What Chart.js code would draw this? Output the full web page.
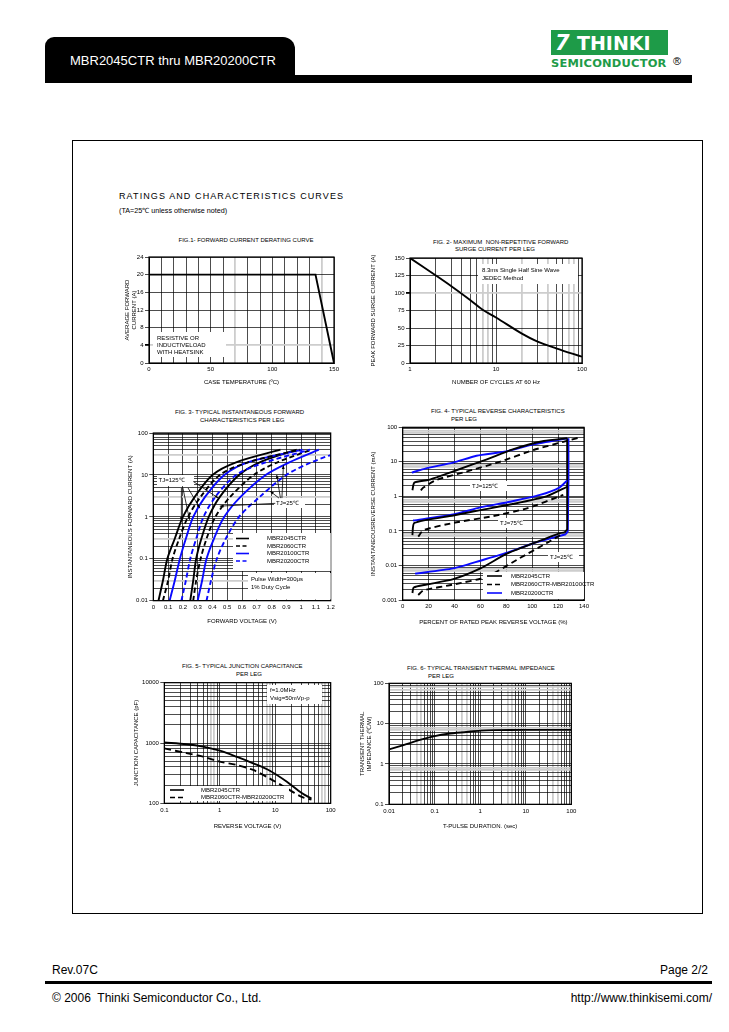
<!DOCTYPE html>
<html>
<head>
<meta charset="utf-8">
<title>MBR2045CTR thru MBR20200CTR - curves</title>
<script src="https://cdn.jsdelivr.net/npm/chart.js@4.4.1/dist/chart.umd.min.js"></script>
<style>
  body { margin: 0; background: #fff; }
  #page { position: relative; width: 729px; height: 1032px; overflow: hidden; font-family: "Liberation Sans", Arial, sans-serif; color: #000; }
  .t { position: absolute; white-space: nowrap; line-height: 1; transform: translateY(-50%); }
  .s { font-size: 6px; }
  canvas { position: absolute; }
</style>
</head>
<body>
<div id="page">
  <!-- header -->
  <div style="position:absolute;left:45px;top:37px;width:250px;height:46px;background:#000;border-radius:9px 12px 0 0;"></div>
  <div style="position:absolute;left:45px;top:75px;width:647px;height:8px;background:#000;"></div>
  <div class="t" style="left:70px;top:60px;font-size:13px;color:#fff;">MBR2045CTR thru MBR20200CTR</div>
  <div style="position:absolute;left:551px;top:30px;width:117px;height:25px;background:#1e9b48;"></div>
  <div class="t" style="left:555px;top:43px;font:italic 900 21px 'DejaVu Sans';color:#fff;">7</div>
  <div class="t" style="left:577px;top:43px;font:900 20px 'DejaVu Sans';color:#fff;transform:translateY(-50%) scaleX(0.95);transform-origin:left center;">THINKI</div>
  <div class="t" style="left:551px;top:63px;font:900 11px 'DejaVu Sans';color:#1e9b48;letter-spacing:0.2px;transform:translateY(-50%) scaleX(1.04);transform-origin:left center;">SEMICONDUCTOR</div>
  <div class="t" style="left:673px;top:61px;font-size:11px;">®</div>

  <!-- frame -->
  <div style="position:absolute;left:72px;top:140px;width:629px;height:772px;border:1px solid #000;"></div>
  <div class="t" style="left:119px;top:196px;font-size:9px;letter-spacing:1.1px;">RATINGS AND CHARACTERISTICS CURVES</div>
  <div class="t" style="left:119px;top:211px;font-size:7.2px;">(TA=25℃ unless otherwise noted)</div>

  <!-- figure titles -->
  <div class="t s" style="left:246px;top:240px;transform:translate(-50%,-50%);">FIG.1- FORWARD CURRENT DERATING CURVE</div>
  <div class="t s" style="left:433px;top:242px;">FIG. 2- MAXIMUM&nbsp; NON-REPETITIVE FORWARD</div>
  <div class="t s" style="left:455px;top:249px;">SURGE CURRENT PER LEG</div>
  <div class="t s" style="left:175px;top:412px;">FIG. 3- TYPICAL INSTANTANEOUS FORWARD</div>
  <div class="t s" style="left:200px;top:420px;">CHARACTERISTICS PER LEG</div>
  <div class="t s" style="left:431px;top:411px;">FIG. 4- TYPICAL REVERSE CHARACTERISTICS</div>
  <div class="t s" style="left:451px;top:419px;">PER LEG</div>
  <div class="t s" style="left:182px;top:666px;">FIG. 5- TYPICAL JUNCTION CAPACITANCE</div>
  <div class="t s" style="left:236px;top:674px;">PER LEG</div>
  <div class="t s" style="left:407px;top:668px;">FIG. 6- TYPICAL TRANSIENT THERMAL IMPEDANCE</div>
  <div class="t s" style="left:428px;top:676px;">PER LEG</div>

  <canvas id="fig1"></canvas>
  <canvas id="fig2"></canvas>
  <canvas id="fig3"></canvas>
  <canvas id="fig4"></canvas>
  <canvas id="fig5"></canvas>
  <canvas id="fig6"></canvas>

  <!-- footer -->
  <div class="t" style="left:52px;top:970px;font-size:12px;">Rev.07C</div>
  <div class="t" style="right:21px;top:970px;font-size:12px;">Page 2/2</div>
  <div style="position:absolute;left:45px;top:981px;width:667px;height:2.5px;background:#000;"></div>
  <div class="t" style="left:52px;top:998px;font-size:12px;">© 2006&nbsp; Thinki Semiconductor Co., Ltd.</div>
  <div class="t" style="right:17px;top:998px;font-size:12px;">http://www.thinkisemi.com/</div>
</div>

<script>
// ---------- Fig.1 forward current derating ----------
const f1Temp = [0, 135, 150];
const f1Amps = [20, 20, 0];
const f1TempLabels = [0, 50, 100, 150];
const f1AmpLabels = [0, 4, 8, 12, 16, 20, 24];

// ---------- Fig.2 surge current ----------
const f2Cycles = [1, 2, 3, 5, 7, 10, 20, 30, 50, 100];
const f2Surge = [150, 125, 110, 90, 76, 65, 42, 31, 21, 9];
const f2CycleLabels = [1, 10, 100];
const f2SurgeLabels = [0, 25, 50, 75, 100, 125, 150];

// ---------- Fig.3 forward characteristics (volts at each current) ----------
const f3Amps = [0.01, 0.03, 0.1, 0.3, 1, 3, 10, 20, 40];
const f3V2045Hot = [0.035, 0.065, 0.095, 0.145, 0.2, 0.28, 0.40, 0.56, 0.86];
const f3V2060Hot = [0.065, 0.1, 0.13, 0.175, 0.235, 0.32, 0.45, 0.64, 0.99];
const f3V20100Hot = [0.11, 0.145, 0.18, 0.22, 0.27, 0.35, 0.48, 0.64, 1.01];
const f3V20200Hot = [0.19, 0.22, 0.25, 0.29, 0.34, 0.42, 0.56, 0.76, 1.06];
const f3V2045Cold = [0.25, 0.27, 0.29, 0.325, 0.375, 0.45, 0.58, 0.72, 0.97];
const f3V2060Cold = [0.27, 0.29, 0.32, 0.36, 0.42, 0.52, 0.68, 0.84, 1.07];
const f3V20100Cold = [0.30, 0.33, 0.36, 0.41, 0.48, 0.59, 0.76, 0.92, 1.12];
const f3V20200Cold = [0.36, 0.39, 0.43, 0.49, 0.58, 0.72, 0.90, 1.07, 1.30];
const f3VoltLabels = [0, 0.1, 0.2, 0.3, 0.4, 0.5, 0.6, 0.7, 0.8, 0.9, 1, 1.1, 1.2];
const f3AmpLabels = [0.01, 0.1, 1, 10, 100];
// arrows [fromV, fromA, toV, toA]
const f3ArrowsHot = [[0.19, 4.9, 0.19, 0.8], [0.2, 4.9, 0.245, 0.85], [0.235, 4.9, 0.315, 1.6], [0.27, 7.0, 0.44, 2.8]];
const f3ArrowsCold = [[0.86, 2.8, 0.835, 10], [0.85, 2.8, 0.79, 4.1], [0.87, 2.8, 0.88, 17], [0.825, 2.1, 0.45, 1.8]];

// ---------- Fig.4 reverse characteristics ----------
const f4Pct2045T125 = [7.5, 9, 20, 42, 65, 85, 109, 127];
const f4mA2045T125 = [1.5, 2.5, 3.0, 5.8, 11.8, 23, 40, 48];
const f4Pct2060T125 = [14, 16, 26, 49, 75, 101, 124, 136];
const f4mA2060T125 = [1.5, 1.8, 3.0, 5.2, 10, 22, 38, 50];
const f4Pct20200T125 = [7, 18, 39, 57, 80, 101, 127];
const f4mA20200T125 = [4.9, 6.5, 9.5, 15, 20, 32, 48];
const f4Pct2045T75 = [7.5, 9, 39, 60, 85, 111, 127];
const f4mA2045T75 = [0.076, 0.17, 0.28, 0.4, 0.6, 1.0, 1.9];
const f4Pct2060T75 = [12, 16, 39, 70, 96, 124];
const f4mA2060T75 = [0.068, 0.105, 0.17, 0.27, 0.45, 1.1];
const f4Pct20200T75 = [8, 39, 60, 83, 106, 121, 127];
const f4mA20200T75 = [0.2, 0.3, 0.48, 0.7, 1.1, 1.8, 2.9];
const f4Pct2045T25 = [7.5, 8.5, 18.5, 39, 60, 80, 101, 121, 125];
const f4mA2045T25 = [0.0016, 0.0023, 0.0028, 0.0040, 0.0082, 0.0215, 0.044, 0.085, 0.09];
const f4Pct2060T25 = [12, 16, 39, 65, 90, 111, 124];
const f4mA2060T25 = [0.0014, 0.0019, 0.0028, 0.0047, 0.016, 0.044, 0.085];
const f4Pct20200T25 = [9.5, 39, 60, 80, 101, 119, 126];
const f4mA20200T25 = [0.0058, 0.0082, 0.0137, 0.023, 0.044, 0.068, 0.08];
const f4PctEdgeBlk = [125, 127, 127, 127];
const f4mAEdgeBlk = [0.09, 0.11, 2, 48];
const f4PctEdgeBlue = [126, 127.5, 128, 128];
const f4mAEdgeBlue = [0.08, 0.1, 3, 48];
const f4PctLabels = [0, 20, 40, 60, 80, 100, 120, 140];
const f4mALabels = [0.001, 0.01, 0.1, 1, 10, 100];

// ---------- Fig.5 junction capacitance ----------
const f5Volts = [0.1, 0.25, 0.5, 1, 2, 4, 8, 16, 30, 45];
const f5pF2045 = [1020, 955, 870, 745, 593, 460, 347, 230, 148, 120];
const f5pF2060 = [814, 680, 594, 490, 433, 357, 257, 178, 128, 115];
const f5VoltLabels = [0.1, 1, 10, 100];
const f5pFLabels = [100, 1000, 10000];

// ---------- Fig.6 transient thermal impedance ----------
const f6Sec = [0.01, 0.02, 0.05, 0.1, 0.2, 0.5, 1, 2, 10, 100];
const f6Zth = [2.3, 2.9, 4.0, 4.9, 5.6, 6.2, 6.7, 6.9, 7.0, 7.0];
const f6SecLabels = [0.01, 0.1, 1, 10, 100];
const f6ZthLabels = [0.1, 1, 10, 100];

// ---------- helpers ----------
const FS = 6;
const LH = FS * 1.2;
const FONT = '6px "Liberation Sans", Arial, sans-serif';
Chart.defaults.font.family = '"Liberation Sans", Arial, sans-serif';
Chart.defaults.font.size = FS;
Chart.defaults.color = '#000';
Chart.defaults.animation = false;

function near(list, v) {
  return list.some(l => Math.abs(l - v) <= 1e-9 * Math.max(1, Math.abs(l)));
}
function linGrid(min, max, step) {
  const a = [];
  for (let v = min; v <= max + step / 1000; v += step) a.push(+v.toFixed(6));
  return a;
}
function logGrid(min, max) {
  const a = [];
  for (let e = Math.round(Math.log10(min)); e < Math.round(Math.log10(max)); e++)
    for (let k = 1; k < 10; k++) a.push(+(k * Math.pow(10, e)).toPrecision(6));
  a.push(max);
  return a;
}
function bySig(grid, sigs) {
  return grid.filter(v => sigs.includes(Math.round(v / Math.pow(10, Math.floor(Math.log10(v) + 1e-9)))));
}

function axis(o) {
  const isX = o.pos === 'x';
  const gray = o.gray || [];
  const tv = c => (c.tick ? c.tick.value : NaN);
  return {
    type: o.type, min: o.min, max: o.max, position: isX ? 'bottom' : 'left',
    afterBuildTicks: s => { s.ticks = o.grid.map(v => ({ value: v })); },
    afterFit: s => { if (isX) s.height = o.size; else s.width = o.size; },
    ticks: {
      autoSkip: false, maxRotation: 0, minRotation: 0, padding: isX ? 3 : 1.5,
      callback: v => near(o.labels, v) ? String(+v.toPrecision(6)) : ''
    },
    grid: {
      drawTicks: !isX, tickLength: 4,
      color: c => near(gray, tv(c)) ? '#cdcdcd' : '#000',
      lineWidth: c => near(gray, tv(c)) ? 1.8 : 0.7,
      tickColor: c => near(o.labels, tv(c)) ? '#000' : 'rgba(0,0,0,0)'
    },
    border: { color: '#000', width: 1 },
    title: { display: true, text: o.title, padding: isX ? { top: 0, bottom: o.tpad } : { top: o.tpad, bottom: 0 } }
  };
}

function series(xs, ys, color, dash, tension) {
  return {
    data: xs.map((x, i) => ({ x: x, y: ys[i] })),
    borderColor: color, borderWidth: 1.9, borderDash: dash || [],
    pointRadius: 0, fill: false, tension: tension === undefined ? 0.3 : tension
  };
}

function arrow(ctx, x0, y0, x1, y1) {
  ctx.strokeStyle = '#000';
  ctx.fillStyle = '#000';
  ctx.lineWidth = 0.8;
  ctx.beginPath(); ctx.moveTo(x0, y0); ctx.lineTo(x1, y1); ctx.stroke();
  const a = Math.atan2(y1 - y0, x1 - x0), h = 4;
  ctx.beginPath();
  ctx.moveTo(x1, y1);
  ctx.lineTo(x1 - h * Math.cos(a - 0.38), y1 - h * Math.sin(a - 0.38));
  ctx.lineTo(x1 - h * Math.cos(a + 0.38), y1 - h * Math.sin(a + 0.38));
  ctx.closePath(); ctx.fill();
}

// area = plot rectangle in page pixels, notes in page pixels (arrows in data units)
function figure(id, area, yTitleX, xTitleY, xo, yo, datasets, notes) {
  const L = Math.round(yTitleX - 6), T = Math.round(area.top - 6);
  const R = Math.round(area.right + 16), B = Math.round(xTitleY + 6);
  const cv = document.getElementById(id);
  cv.width = R - L; cv.height = B - T;
  cv.style.left = L + 'px'; cv.style.top = T + 'px';
  cv.style.width = (R - L) + 'px'; cv.style.height = (B - T) + 'px';
  xo.pos = 'x'; xo.size = B - area.bottom; xo.tpad = B - xTitleY - LH / 2;
  yo.pos = 'y'; yo.size = area.left - L; yo.tpad = yTitleX - L - LH / 2;
  notes = notes || {};

  const decor = {
    id: 'decor',
    afterDatasetsDraw(chart) {
      const { ctx, chartArea: a, scales } = chart;
      ctx.save();
      ctx.strokeStyle = '#000'; ctx.lineWidth = 1.2;
      ctx.strokeRect(a.left, a.top, a.right - a.left, a.bottom - a.top);
      ctx.fillStyle = '#fff';
      (notes.boxes || []).forEach(b => ctx.fillRect(b[0] - L, b[1] - T, b[2] - b[0], b[3] - b[1]));
      (notes.keys || []).forEach(k => {
        ctx.strokeStyle = k[3]; ctx.lineWidth = 1.6; ctx.setLineDash(k[4]);
        ctx.beginPath(); ctx.moveTo(k[0] - L, k[2] - T); ctx.lineTo(k[1] - L, k[2] - T); ctx.stroke();
      });
      ctx.setLineDash([]);
      ctx.font = FONT; ctx.fillStyle = '#000'; ctx.textBaseline = 'middle'; ctx.textAlign = 'left';
      (notes.texts || []).forEach(t => ctx.fillText(t[2], t[0] - L, t[1] - T));
      (notes.arrows || []).forEach(r => arrow(ctx,
        scales.x.getPixelForValue(r[0]), scales.y.getPixelForValue(r[1]),
        scales.x.getPixelForValue(r[2]), scales.y.getPixelForValue(r[3])));
      ctx.restore();
    }
  };

  return new Chart(cv, {
    type: 'line',
    data: { datasets: datasets },
    options: {
      responsive: false, maintainAspectRatio: false,
      layout: { autoPadding: false, padding: { left: 0, bottom: 0, top: area.top - T, right: R - area.right } },
      plugins: { legend: { display: false }, tooltip: { enabled: false } },
      scales: { x: axis(xo), y: axis(yo) }
    },
    plugins: [decor]
  });
}

const BLK = '#000', BLUE = '#0a0aff';

// Fig.1
figure('fig1', { left: 149, top: 257, right: 334, bottom: 363 }, 127, 382,
  { type: 'linear', min: 0, max: 150, grid: linGrid(0, 150, 10), labels: f1TempLabels, gray: [70, 140], title: 'CASE TEMPERATURE (ºC)' },
  { type: 'linear', min: 0, max: 24, grid: linGrid(0, 24, 4), labels: f1AmpLabels, gray: [4], title: ['AVERAGE FORWARD', 'CURRENT (A)'] },
  [series(f1Temp, f1Amps, BLK, [], 0)],
  {
    boxes: [[153, 332, 226, 357]],
    texts: [[157, 338, 'RESISTIVE OR'], [157, 345, 'INDUCTIVELOAD'], [157, 352, 'WITH HEATSINK']]
  });

// Fig.2
figure('fig2', { left: 410, top: 258, right: 582, bottom: 363 }, 373, 382,
  { type: 'logarithmic', min: 1, max: 100, grid: logGrid(1, 100), labels: f2CycleLabels, gray: [7, 8, 20, 40, 70, 80], title: 'NUMBER OF CYCLES AT 60 Hz' },
  { type: 'linear', min: 0, max: 150, grid: linGrid(0, 150, 25), labels: f2SurgeLabels, gray: [100], title: 'PEAK FORWARD SURGE CURRENT (A)' },
  [series(f2Cycles, f2Surge, BLK, [], 0.35)],
  {
    boxes: [[478, 264, 578, 284]],
    texts: [[482, 270, '8.3ms Single Half Sine Wave'], [482, 278, 'JEDEC Method']]
  });

// Fig.3
const f3Grid = logGrid(0.01, 100);
figure('fig3', { left: 153.3, top: 433, right: 330.7, bottom: 600.7 }, 130, 621,
  { type: 'linear', min: 0, max: 1.2, grid: linGrid(0, 1.2, 0.1), labels: f3VoltLabels, title: 'FORWARD VOLTAGE (V)' },
  { type: 'logarithmic', min: 0.01, max: 100, grid: f3Grid, labels: f3AmpLabels, gray: bySig(f3Grid, [3]), title: 'INSTANTANEOUS FORWARD CURRENT (A)' },
  [
    series(f3V2045Hot, f3Amps, BLK), series(f3V2060Hot, f3Amps, BLK, [5, 3]),
    series(f3V20100Hot, f3Amps, BLUE), series(f3V20200Hot, f3Amps, BLUE, [5, 3]),
    series(f3V2045Cold, f3Amps, BLK), series(f3V2060Cold, f3Amps, BLK, [5, 3]),
    series(f3V20100Cold, f3Amps, BLUE), series(f3V20200Cold, f3Amps, BLUE, [5, 3])
  ],
  {
    boxes: [[157, 475, 194, 486], [274, 498, 305, 508], [233, 533, 330.7, 571], [248, 573, 330.7, 599.5]],
    keys: [[236, 249, 538.5, BLK, []], [236, 249, 546, BLK, [4, 2.5]], [236, 249, 553.5, BLUE, []], [236, 249, 561, BLUE, [4, 2.5]]],
    texts: [[158.5, 480.5, 'TJ=125℃'], [276, 503, 'TJ=25℃'],
      [267, 538.5, 'MBR2045CTR'], [267, 546, 'MBR2060CTR'], [267, 553.5, 'MBR20100CTR'], [267, 561, 'MBR20200CTR'],
      [251, 579, 'Pulse Width=300μs'], [251, 587, '1% Duty Cycle']],
    arrows: f3ArrowsHot.concat(f3ArrowsCold)
  });

// Fig.4
const f4Grid = logGrid(0.001, 100);
figure('fig4', { left: 402.7, top: 427.3, right: 584, bottom: 600 }, 373, 622,
  { type: 'linear', min: 0, max: 140, grid: linGrid(0, 140, 20), labels: f4PctLabels, title: 'PERCENT OF RATED PEAK REVERSE VOLTAGE (%)' },
  { type: 'logarithmic', min: 0.001, max: 100, grid: f4Grid, labels: f4mALabels, gray: bySig(f4Grid, [7, 8]), title: 'INSTANTANEOUSREVERSE CURRENT (mA)' },
  [
    series(f4Pct2045T125, f4mA2045T125, BLK, [], 0.2), series(f4Pct2060T125, f4mA2060T125, BLK, [6, 4], 0.2),
    series(f4Pct20200T125, f4mA20200T125, BLUE, [], 0.2),
    series(f4Pct2045T75, f4mA2045T75, BLK, [], 0.2), series(f4Pct2060T75, f4mA2060T75, BLK, [6, 4], 0.2),
    series(f4Pct20200T75, f4mA20200T75, BLUE, [], 0.2),
    series(f4Pct2045T25, f4mA2045T25, BLK, [], 0.2), series(f4Pct2060T25, f4mA2060T25, BLK, [6, 4], 0.2),
    series(f4Pct20200T25, f4mA20200T25, BLUE, [], 0.2),
    series(f4PctEdgeBlk, f4mAEdgeBlk, BLK, [], 0), series(f4PctEdgeBlue, f4mAEdgeBlue, BLUE, [], 0)
  ],
  {
    boxes: [[470, 481, 507, 491], [498, 518, 523, 528], [548, 552, 579, 562], [483, 572, 584, 599]],
    keys: [[487, 502, 576, BLK, []], [487, 502, 584.5, BLK, [5, 3]], [487, 502, 593, BLUE, []]],
    texts: [[472, 486, 'TJ=125℃'], [500, 523, 'TJ=75℃'], [550, 557, 'TJ=25℃'],
      [511, 576, 'MBR2045CTR'], [511, 584.5, 'MBR2060CTR-MBR20100CTR'], [511, 593, 'MBR20200CTR']]
  });

// Fig.5
const f5XGrid = logGrid(0.1, 100);
figure('fig5', { left: 164.3, top: 682.7, right: 330.7, bottom: 803.3 }, 136, 826,
  { type: 'logarithmic', min: 0.1, max: 100, grid: f5XGrid, labels: f5VoltLabels, gray: bySig(f5XGrid, [7, 8]), title: 'REVERSE VOLTAGE (V)' },
  { type: 'logarithmic', min: 100, max: 10000, grid: logGrid(100, 10000), labels: f5pFLabels, title: 'JUNCTION CAPACITANCE (pF)' },
  [series(f5Volts, f5pF2045, BLK), series(f5Volts, f5pF2060, BLK, [7, 4])],
  {
    boxes: [[166, 786, 289, 801], [267, 685, 322, 704]],
    keys: [[170, 184, 790, BLK, []], [170, 184, 797.5, BLK, [5, 3]]],
    texts: [[201, 790, 'MBR2045CTR'], [201, 797.5, 'MBR2060CTR-MBR20200CTR'], [270, 690.5, 'f=1.0MHz'], [270, 698, 'Vsig=50mVp-p']]
  });

// Fig.6
const f6XGrid = logGrid(0.01, 100), f6YGrid = logGrid(0.1, 100);
figure('fig6', { left: 389, top: 683.3, right: 571.3, bottom: 804.3 }, 362, 826,
  { type: 'logarithmic', min: 0.01, max: 100, grid: f6XGrid, labels: f6SecLabels, gray: bySig(f6XGrid, [4, 5]), title: 'T-PULSE DURATION. (sec)' },
  { type: 'logarithmic', min: 0.1, max: 100, grid: f6YGrid, labels: f6ZthLabels, gray: bySig(f6YGrid, [7, 8]), title: ['TRANSIENT THERMAL', 'IMPEDANCE (℃/W)'] },
  [series(f6Sec, f6Zth, BLK)]);
</script>
</body>
</html>
